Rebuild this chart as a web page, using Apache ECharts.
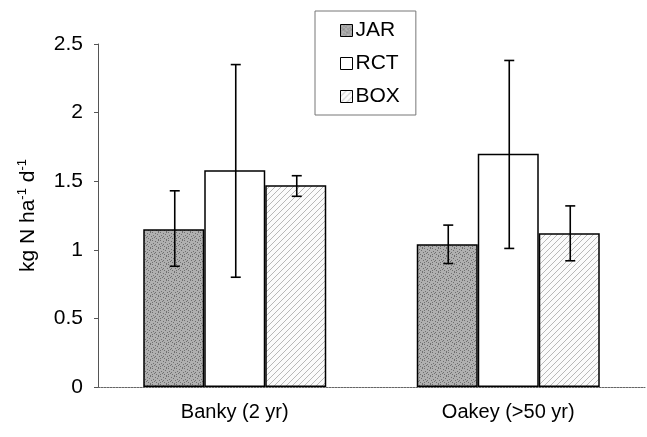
<!DOCTYPE html>
<html>
<head>
<meta charset="utf-8">
<script src="https://cdn.jsdelivr.net/npm/echarts@6/dist/echarts.min.js"></script>
<style>
html, body { margin: 0; padding: 0; background: #fff; }
#chart { width: 647px; height: 437px; }
</style>
</head>
<body>
<div id="chart"></div>
<script>
var sites = ['Banky (2 yr)', 'Oakey (>50 yr)'];
var methods = ['JAR', 'RCT', 'BOX'];
var jarMean = [1.15, 1.04];
var rctMean = [1.58, 1.70];
var boxMean = [1.47, 1.12];
// error bar ends [low, high]
var jarErr = [[0.88, 1.43], [0.90, 1.18]];
var rctErr = [[0.80, 2.35], [1.01, 2.38]];
var boxErr = [[1.39, 1.54], [0.92, 1.32]];
var yTicks = [0, 0.5, 1, 1.5, 2, 2.5];

var font = 'Liberation Sans, Arial, sans-serif';

// fill patterns, roughly like the printed ones
function stipple() {
	var c = document.createElement('canvas');
	c.width = 8; c.height = 8;
	var g = c.getContext('2d');
	g.fillStyle = '#b0b0b0';
	g.fillRect(0, 0, 8, 8);
	var dots = [[0,0],[3,1],[6,0],[1,3],[5,2],[2,5],[7,4],[4,6],[0,6],[6,7],[3,4]];
	g.fillStyle = '#707070';
	dots.forEach(function(d) { g.fillRect(d[0], d[1], 1, 1); });
	return c;
}
function hatch() {
	var c = document.createElement('canvas');
	c.width = 6; c.height = 6;
	var g = c.getContext('2d');
	g.fillStyle = '#fbfbfb';
	g.fillRect(0, 0, 6, 6);
	g.fillStyle = '#b8b8b8';
	for (var i = 0; i < 6; i++) {
		g.fillRect(5 - i, i, 1, 1);
	}
	return c;
}

var fills = [
	{image: stipple(), repeat: 'repeat'},
	'#ffffff',
	{image: hatch(), repeat: 'repeat'}
];
var means = [jarMean, rctMean, boxMean];
var errs = [jarErr, rctErr, boxErr];

var chart = echarts.init(document.getElementById('chart'));

var series = methods.map(function(m, k) {
	return {
		name: m,
		type: 'bar',
		data: means[k],
		barWidth: 61,
		barGap: '0%',
		itemStyle: {
			color: fills[k],
			borderColor: '#000',
			borderWidth: 1.5
		}
	};
});

// error bars, one custom series per method so they sit on their bars
methods.forEach(function(m, k) {
	series.push({
		type: 'custom',
		name: m + ' err',
		data: errs[k].map(function(e, i) { return [i, e[0], e[1]]; }),
		z: 10,
		renderItem: function(params, api) {
			var lo = api.coord([api.value(0), api.value(1)]);
			var hi = api.coord([api.value(0), api.value(2)]);
			var x = lo[0] + (k - 1) * 61 + 1;
			var cap = 5;
			var st = {stroke: '#000', lineWidth: 1.6};
			return {
				type: 'group',
				children: [
					{type: 'line', shape: {x1: x, y1: lo[1], x2: x, y2: hi[1]}, style: st},
					{type: 'line', shape: {x1: x - cap, y1: lo[1], x2: x + cap, y2: lo[1]}, style: st},
					{type: 'line', shape: {x1: x - cap, y1: hi[1], x2: x + cap, y2: hi[1]}, style: st}
				]
			};
		}
	});
});

var option = {
	animation: false,
	textStyle: {fontFamily: font, color: '#000'},
	grid: {left: 98, right: 2, top: 44, bottom: 50},
	legend: {
		data: methods,
		orient: 'vertical',
		left: 315,
		top: 11,
		padding: [9, 16, 8, 25],
		itemGap: 12,
		itemWidth: 12,
		itemHeight: 12,
		icon: 'rect',
		borderColor: '#777',
		borderWidth: 1,
		itemStyle: {borderColor: '#000', borderWidth: 1},
		textStyle: {fontSize: 21, color: '#000', fontFamily: font, padding: [0, 0, 0, -2]}
	},
	xAxis: {
		type: 'category',
		data: sites,
		axisTick: {show: false},
		axisLine: {lineStyle: {color: '#666', width: 1, type: [2, 1]}},
		axisLabel: {fontSize: 20, color: '#000', margin: 15}
	},
	yAxis: {
		type: 'value',
		min: yTicks[0],
		max: yTicks[yTicks.length - 1],
		interval: 0.5,
		splitLine: {show: false},
		axisLine: {show: true, lineStyle: {color: '#555', width: 1}},
		axisTick: {show: true, length: 4, lineStyle: {color: '#555'}},
		axisLabel: {fontSize: 21, color: '#000', margin: 15},
		name: '{a|kg N ha}{s|-1}{a| d}{s|-1}',
		nameLocation: 'middle',
		nameGap: 58,
		nameTextStyle: {
			rich: {
				a: {fontSize: 21, color: '#000', fontFamily: font},
				s: {fontSize: 13, color: '#000', verticalAlign: 'top', padding: [0, 0, 11, 0], fontFamily: font}
			}
		}
	},
	series: series
};

chart.setOption(option);
window.addEventListener('resize', chart.resize);
</script>
</body>
</html>
